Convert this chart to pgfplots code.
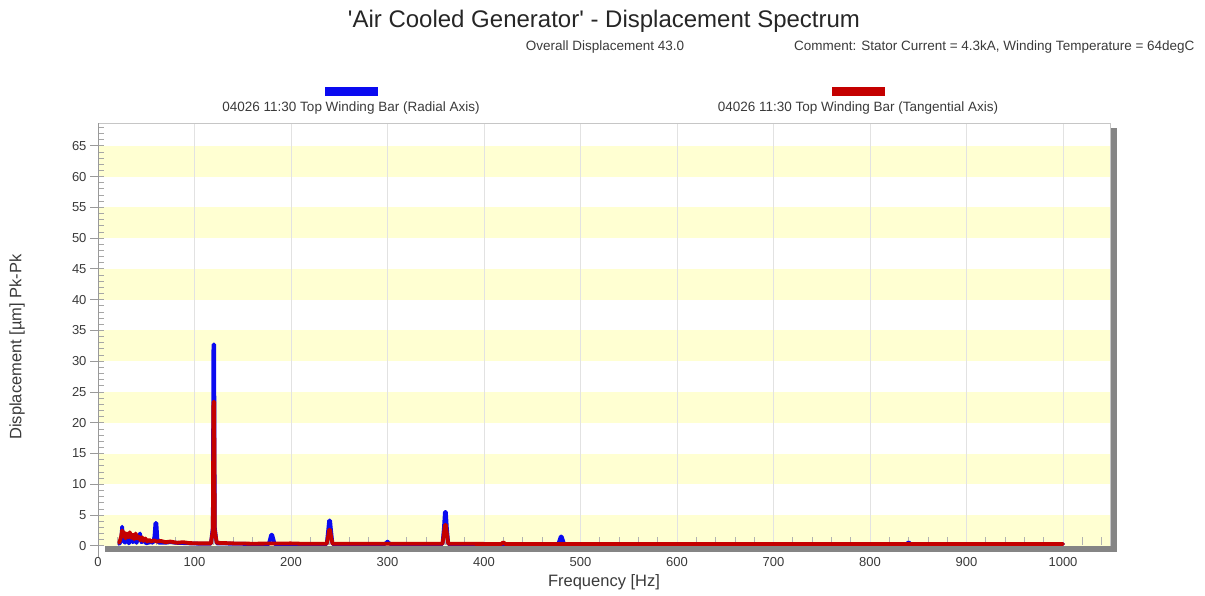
\documentclass[border=0pt]{standalone}
\usepackage{fontspec}
\setmainfont{Liberation Sans}
\usepackage{pgfplots}
\pgfplotsset{compat=1.18}

\definecolor{radial}{HTML}{0A0AF0}
\definecolor{tangential}{HTML}{C40000}
\definecolor{band}{HTML}{FFFFD2}
\definecolor{shadow}{HTML}{858585}
\definecolor{gridc}{HTML}{E2E2E2}
\definecolor{labelgray}{HTML}{3A3A3A}

\begin{document}
\begin{tikzpicture}
\useasboundingbox (0pt,0pt) rectangle (1205pt,-596pt);

\begin{axis}[
  at={(98pt,-552pt)}, anchor=south west,
  scale only axis, width=1012pt, height=429pt,
  xmin=0, xmax=1048.7, ymin=-1, ymax=68.7,
  axis x line*=bottom, axis y line*=left,
  x axis line style={draw=none},
  y axis line style={draw=gray!80, line width=0.8pt, shorten <=-6pt},
  xtick={0,100,...,1000}, xtick style={draw=none},
  ytick={0,5,...,65}, ytick style={draw=gray!80, line width=0.8pt},
  tick align=outside, major tick length=8pt,
  /pgf/number format/assume math mode=true,
  /pgf/number format/1000 sep={},
  ticklabel style={font=\fontsize{13}{15}\selectfont, text=labelgray},
  xticklabel style={yshift=6pt},
  axis on top, clip=false,
]
  % alternating background bands
  \fill[band] (axis cs:0,0)  rectangle (axis cs:1048.7,5);
  \fill[band] (axis cs:0,10) rectangle (axis cs:1048.7,15);
  \fill[band] (axis cs:0,20) rectangle (axis cs:1048.7,25);
  \fill[band] (axis cs:0,30) rectangle (axis cs:1048.7,35);
  \fill[band] (axis cs:0,40) rectangle (axis cs:1048.7,45);
  \fill[band] (axis cs:0,50) rectangle (axis cs:1048.7,55);
  \fill[band] (axis cs:0,60) rectangle (axis cs:1048.7,65);

  % vertical grid
  \pgfplotsinvokeforeach{100,200,...,1000}{
    \draw[gridc, line width=0.8pt] (axis cs:#1,-1) -- (axis cs:#1,68.7);
  }
  % inner minor ticks
  \pgfplotsinvokeforeach{0,1,...,68}{
    \draw[gray!70, line width=0.8pt] (axis cs:0,#1) -- ++(6pt,0pt);
  }
  \pgfplotsinvokeforeach{20,40,60,80,120,140,160,180,220,240,260,280,320,340,360,380,
      420,440,460,480,520,540,560,580,620,640,660,680,720,740,760,780,
      820,840,860,880,920,940,960,980,1020,1040}{
    \draw[gray!60, line width=0.8pt] (axis cs:#1,0.2) -- (axis cs:#1,1.4);
  }

  % frame with shadow
  \fill[shadow] (axis cs:7,-1) rectangle (axis cs:1048.7,0);
  \fill[shadow] (axis cs:1048.7,-1) rectangle ([xshift=7pt]axis cs:1048.7,67.9);
  \draw[gray!45, line width=0.8pt] (axis cs:0,68.7) -- (axis cs:1048.7,68.7) -- (axis cs:1048.7,0);

  % Radial axis spectrum
  \addplot[radial, line width=3.8pt, line join=round, line cap=round] coordinates {
    (22,0.3)(24,0.8)(25,3.1)(26,1.0)(28,0.5)(30,1.4)(32,0.4)(34,1.2)(36,0.6)
    (38,1.0)(40,0.5)(42,1.4)(43.5,2.0)(45,0.6)(48,0.8)(50,0.4)(54,0.6)(57,0.5)
    (58.5,1.5)(59.5,3.7)(60.5,3.7)(61.5,1.2)(63,0.5)(70,0.5)(75,0.6)(80,0.5)
    (88,0.45)(95,0.4)(105,0.35)(117,0.35)(119,3)(119.6,32.7)(120.4,32.7)(121,3)
    (123,0.4)(140,0.35)(160,0.3)(177,0.3)(178.5,1.2)(179.5,1.8)(180.5,1.8)
    (181.5,1.2)(183,0.3)(237,0.3)(238.5,2.5)(239.5,4.1)(240.5,4.1)(241.5,2.5)
    (243,0.3)(297,0.3)(299,0.5)(300,0.7)(301,0.5)(303,0.3)(357,0.3)(358.5,3)
    (359.5,5.5)(360.5,5.5)(361.5,3)(363,0.3)(477,0.3)(478.5,1.0)(479.5,1.5)
    (480.5,1.5)(481.5,1.0)(483,0.3)(838,0.3)(840,0.6)(842,0.3)(1000,0.3)
  };
  % Tangential axis spectrum
  \addplot[tangential, line width=3.8pt, line join=round, line cap=round] coordinates {
    (22,0.5)(24,1.5)(25,2.5)(26,1.6)(27,2.2)(28.5,1.2)(30,2.0)(31.5,1.4)(33,2.2)
    (34.5,1.3)(36,1.8)(37.5,1.1)(39,2.0)(40.5,1.2)(42,1.5)(44,0.9)(45.5,1.4)
    (47,0.8)(49,1.2)(51,0.7)(53,1.0)(55,0.7)(58,0.9)(61,0.7)(65,0.8)(70,0.6)
    (75,0.7)(82,0.5)(88,0.6)(95,0.45)(105,0.4)(117,0.4)(119,2.5)(119.6,23.4)
    (120.4,23.4)(121,2.5)(123,0.5)(140,0.4)(160,0.35)(200,0.4)(210,0.35)
    (237,0.35)(238.5,1.5)(239.5,2.6)(240.5,2.6)(241.5,1.5)(243,0.35)(357,0.35)
    (358.5,2.0)(359.5,3.4)(360.5,3.4)(361.5,2.0)(363,0.35)(418,0.3)(420,0.6)
    (422,0.3)(440,0.3)(600,0.3)(700,0.3)(1000,0.3)
  };
\end{axis}

% titles
\node[font=\fontsize{24}{28}\selectfont, text=black!85] at (604pt,-21pt)
  {\textquotesingle Air Cooled Generator\textquotesingle{} - Displacement Spectrum};
\node[font=\fontsize{13.5}{15}\selectfont, text=labelgray] at (605pt,-47pt)
  {Overall Displacement 43.0};
\node[font=\fontsize{13.5}{15}\selectfont, text=labelgray, anchor=east] at (1198pt,-47pt)
  {Comment: Stator Current = 4.3kA, Winding Temperature = 64degC};

% legend
\fill[radial] (325pt,-87pt) rectangle (378pt,-96pt);
\node[font=\fontsize{13.5}{15}\selectfont, text=labelgray] at (351pt,-108pt)
  {04026 11:30 Top Winding Bar (Radial Axis)};
\fill[tangential] (832pt,-87pt) rectangle (885pt,-96pt);
\node[font=\fontsize{13.5}{15}\selectfont, text=labelgray] at (858pt,-108pt)
  {04026 11:30 Top Winding Bar (Tangential Axis)};

% axis titles
\node[rotate=90, font=\fontsize{16.5}{18}\selectfont, text=labelgray] at (17pt,-347pt)
  {Displacement [µm] Pk-Pk};
\node[font=\fontsize{16.5}{18}\selectfont, text=labelgray] at (604pt,-582pt)
  {Frequency [Hz]};
\end{tikzpicture}
\end{document}
